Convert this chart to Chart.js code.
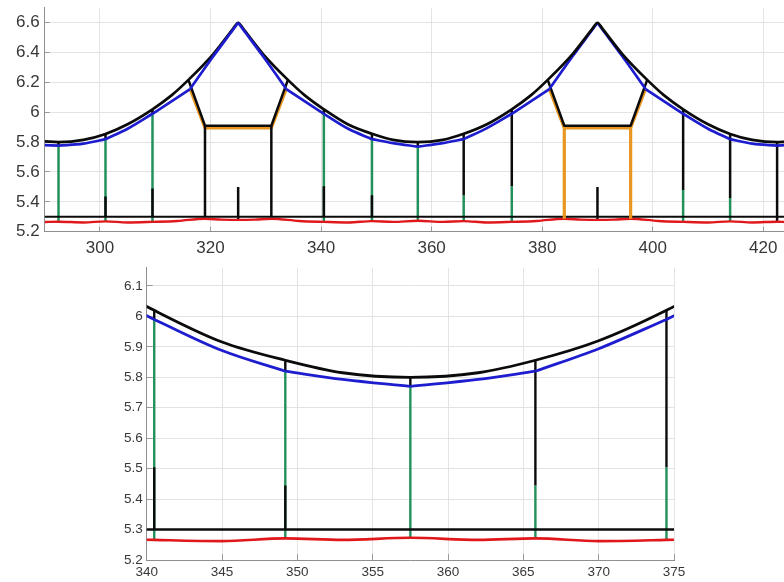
<!DOCTYPE html>
<html>
<head>
<meta charset="utf-8">
<script src="https://cdn.jsdelivr.net/npm/chart.js@4.4.1/dist/chart.umd.min.js"></script>
<style>
  html, body { margin: 0; padding: 0; background: #fff; overflow: hidden; width: 784px; height: 582px; }
  #overview { position: absolute; left: 0; top: 0; }
  #detail { position: absolute; left: 0; top: 260px; }
</style>
</head>
<body>
<canvas id="overview" width="790" height="262"></canvas>
<canvas id="detail" width="784" height="322"></canvas>
<script>
// ---- System A (black) messenger wire: x position [m], height [m]
const messengerAX = [290, 292.5, 297, 301, 305, 309.5, 313, 316, 320.5, 324, 325, 326, 329.5, 334, 337, 340.5, 345, 349.2, 353, 357.5,
                     362, 365.8, 370, 374.5, 378, 381, 385.5, 389, 390, 391, 394.5, 399, 402, 405.5, 410, 414, 418, 422.5, 424];
const messengerAY = [5.805, 5.80, 5.815, 5.855, 5.92, 6.02, 6.115, 6.217, 6.39, 6.555, 6.60, 6.555, 6.39, 6.217, 6.115, 6.02, 5.916, 5.856, 5.815, 5.80,
                     5.815, 5.856, 5.92, 6.02, 6.115, 6.217, 6.39, 6.555, 6.60, 6.555, 6.39, 6.217, 6.115, 6.02, 5.92, 5.855, 5.815, 5.80, 5.802];

// ---- System B (blue) messenger wire
const messengerBX = [290, 292.5, 297, 301, 305, 309.5, 313, 316.3, 320.5, 324, 325, 326, 329.5, 333.7, 337, 340.5, 345, 349.2, 353, 357.5,
                     362, 365.8, 370, 374.5, 378, 381.3, 385.5, 389, 390, 391, 394.5, 398.7, 402, 405.5, 410, 414, 418, 422.5, 424];
const messengerBY = [5.78, 5.777, 5.79, 5.82, 5.89, 5.99, 6.075, 6.156, 6.375, 6.55, 6.60, 6.55, 6.375, 6.156, 6.075, 5.99, 5.888, 5.82, 5.793, 5.77,
                     5.793, 5.82, 5.894, 5.99, 6.075, 6.156, 6.375, 6.55, 6.60, 6.55, 6.375, 6.156, 6.075, 5.99, 5.89, 5.82, 5.79, 5.777, 5.78];

// ---- Contact wires: A is straight, B (red) follows the dropper pull
const contactAX = [290, 424];
const contactAY = [5.3, 5.3];
const contactBX = [290, 292.5, 297, 301, 305, 309.5, 314, 319, 322, 325, 328, 331, 336, 340.5, 345, 349.2, 353, 357.5, 362, 365.8,
                   370, 374.5, 379, 384, 387, 390, 393, 396, 401, 405.5, 410, 414, 418, 422.5, 424];
const contactBY = [5.265, 5.267, 5.262, 5.269, 5.262, 5.266, 5.272, 5.287, 5.281, 5.279, 5.281, 5.287, 5.272, 5.266, 5.262, 5.271, 5.266, 5.273, 5.266, 5.271,
                   5.262, 5.266, 5.272, 5.287, 5.281, 5.279, 5.281, 5.287, 5.272, 5.266, 5.262, 5.269, 5.262, 5.267, 5.265];

// ---- Droppers: which system is drawn on the upper part, and the height where the colours meet
const dropperX     = [292.5, 301, 309.5, 340.5, 349.2, 357.5, 365.8, 374.5, 405.5, 414, 422.5];
const dropperUpper = ['B', 'B', 'B', 'B', 'B', 'B', 'A', 'A', 'A', 'A', 'A'];
const dropperJoin  = [null, 5.435, 5.49, 5.505, 5.445, null, 5.445, 5.505, 5.48, 5.425, null];

// ---- Supports (registration frames)
const supportPostX   = [[319, 331], [384, 396]];
const supportKneeAX  = [[316, 334], [381, 399]];
const supportKneeBX  = [[316.3, 333.7], [381.3, 398.7]];
const supportDeckA   = 5.91;
const supportDeckB   = 5.895;
const supportPostSys = ['A', 'B'];

// ---- Short anchor stubs at mid-support (also the messenger peaks)
const anchorX = [325, 390];
const anchorTopY = 5.5;

// ---- Axis ticks
const overviewXTicks = [300, 320, 340, 360, 380, 400, 420];
const overviewYTicks = [5.2, 5.4, 5.6, 5.8, 6, 6.2, 6.4, 6.6];
const detailXTicks = [340, 345, 350, 355, 360, 365, 370, 375];
const detailYTicks = [5.2, 5.3, 5.4, 5.5, 5.6, 5.7, 5.8, 5.9, 6, 6.1];

const INK = {
  A: '#0b0b0b',
  messengerB: '#1d1dcf',
  contactB: '#e0181c',
  dropperB: '#22905a',
  supportB: '#e8961f'
};

function valueAt(xs, ys, x) { return ys[xs.indexOf(x)]; }
function pts(xs, ys) { return xs.map((x, i) => ({ x: x, y: ys[i] })); }

function series(points, color, width, order, smooth) {
  return {
    data: points, showLine: true, borderColor: color, backgroundColor: color,
    borderWidth: width, pointRadius: 0, pointHoverRadius: 0, fill: false,
    tension: 0, cubicInterpolationMode: smooth ? 'monotone' : 'default',
    borderJoinStyle: 'round', borderCapStyle: 'butt', order: order
  };
}

function buildDatasets(w) {
  const ds = [];
  const blackAt = x => valueAt(messengerAX, messengerAY, x);
  const blueAt = x => valueAt(messengerBX, messengerBY, x);
  const redAt = x => valueAt(contactBX, contactBY, x);

  // blue messenger: smooth between its attachment points, kinked at each of them
  const kinks = [...dropperX, ...supportKneeBX.flat(), ...anchorX].sort((a, b) => a - b);
  const bounds = [messengerBX[0], ...kinks, messengerBX[messengerBX.length - 1]];
  const blueAll = pts(messengerBX, messengerBY);
  for (let i = 0; i < bounds.length - 1; i++) {
    const a = bounds[i], b = bounds[i + 1];
    const piece = blueAll.filter(p => p.x >= a && p.x <= b);
    // on the first peak the blue wire lies over the black one, on the second under it
    ds.push(series(piece, INK.messengerB, w.wire, b <= 357.5 ? 0 : 2, true));
  }
  ds.push(series(pts(messengerAX, messengerAY), INK.A, w.wire, 1, true));

  // support frames
  supportPostX.forEach((posts, i) => {
    const kA = supportKneeAX[i], kB = supportKneeBX[i];
    ds.push(series([
      { x: kA[0], y: blackAt(kA[0]) }, { x: posts[0], y: supportDeckA },
      { x: posts[1], y: supportDeckA }, { x: kA[1], y: blackAt(kA[1]) }
    ], INK.A, w.dropper, 3, false));
    ds.push(series([
      { x: kB[0], y: blueAt(kB[0]) }, { x: posts[0], y: supportDeckB },
      { x: posts[1], y: supportDeckB }, { x: kB[1], y: blueAt(kB[1]) }
    ], INK.supportB, w.frame, 4, false));
    posts.forEach(px => {
      if (supportPostSys[i] === 'A') {
        ds.push(series([{ x: px, y: contactAY[0] }, { x: px, y: supportDeckA }], INK.A, w.dropper, 3, false));
      } else {
        ds.push(series([{ x: px, y: redAt(px) }, { x: px, y: supportDeckB }], INK.supportB, w.frame, 3, false));
      }
    });
  });

  // contact wires
  ds.push(series(pts(contactAX, contactAY), INK.A, w.contact, 5, false));
  ds.push(series(pts(contactBX, contactBY), INK.contactB, w.red, 6, true));

  // droppers
  dropperX.forEach((x, i) => {
    const join = dropperJoin[i];
    if (dropperUpper[i] === 'B') {
      ds.push(series([{ x: x, y: redAt(x) }, { x: x, y: blueAt(x) }], INK.dropperB, w.dropper, 8, false));
      if (join !== null) ds.push(series([{ x: x, y: contactAY[0] }, { x: x, y: join }], INK.A, w.dropper, 7, false));
      ds.push(series([{ x: x, y: blueAt(x) }, { x: x, y: blackAt(x) }], INK.A, w.dropper, 7, false));
    } else {
      if (join !== null) ds.push(series([{ x: x, y: redAt(x) }, { x: x, y: join }], INK.dropperB, w.dropper, 8, false));
      ds.push(series([{ x: x, y: join !== null ? join : redAt(x) }, { x: x, y: blackAt(x) }], INK.A, w.dropper, 7, false));
    }
  });

  // anchor stubs
  anchorX.forEach(x => {
    ds.push(series([{ x: x, y: redAt(x) }, { x: x, y: anchorTopY }], INK.A, w.dropper, 7, false));
  });
  return ds;
}

function makeChart(id, cfg) {
  const font = { family: "'Liberation Sans', Arial, Helvetica, sans-serif", size: cfg.fontSize };
  // short tick marks pointing into the plot area
  const grid = { color: '#e3e3e3', lineWidth: 1, drawTicks: true, tickLength: -cfg.tick, tickColor: '#9a9a9a', tickWidth: 1 };
  const border = { color: '#8f8f8f', width: 1 };
  return new Chart(document.getElementById(id), {
    type: 'scatter',
    data: { datasets: buildDatasets(cfg.widths) },
    options: {
      responsive: false, animation: false, events: [],
      layout: { padding: cfg.padding },
      plugins: { legend: { display: false }, tooltip: { enabled: false } },
      scales: {
        x: {
          type: 'linear', min: cfg.x[0], max: cfg.x[1],
          afterBuildTicks: s => { s.ticks = cfg.xTicks.map(v => ({ value: v })); },
          afterFit: s => { s.height = cfg.xHeight; s.paddingLeft = 0; s.paddingRight = 0; },
          ticks: { font: font, color: '#383838', padding: cfg.xPad + cfg.tick, autoSkip: false, maxRotation: 0, callback: v => String(v) },
          grid: grid, border: border
        },
        y: {
          type: 'linear', min: cfg.y[0], max: cfg.y[1],
          afterBuildTicks: s => { s.ticks = cfg.yTicks.map(v => ({ value: v })); },
          afterFit: s => { s.width = cfg.yWidth; s.paddingTop = 0; s.paddingBottom = 0; },
          ticks: { font: font, color: '#383838', padding: cfg.yPad + cfg.tick, autoSkip: false, callback: v => String(v) },
          grid: grid, border: border
        }
      }
    }
  });
}

makeChart('overview', {
  x: [290, 424], y: [5.2, 6.7],
  xTicks: overviewXTicks, yTicks: overviewYTicks,
  fontSize: 17, xHeight: 30.3, yWidth: 44.7, xPad: 6, yPad: 5, tick: 5,
  padding: { top: 7.8, right: 4.6, left: 0, bottom: 0 },
  widths: { wire: 2.7, dropper: 2.5, frame: 3.2, contact: 2, red: 2.4 }
});

makeChart('detail', {
  x: [340, 375], y: [5.2, 6.16],
  xTicks: detailXTicks, yTicks: detailYTicks,
  fontSize: 13.5, xHeight: 22, yWidth: 146.7, xPad: 4, yPad: 4, tick: 6,
  padding: { top: 7.7, right: 110, left: 0, bottom: 0 },
  widths: { wire: 2.8, dropper: 2.4, frame: 3.2, contact: 2.4, red: 2.6 }
});
</script>
</body>
</html>
